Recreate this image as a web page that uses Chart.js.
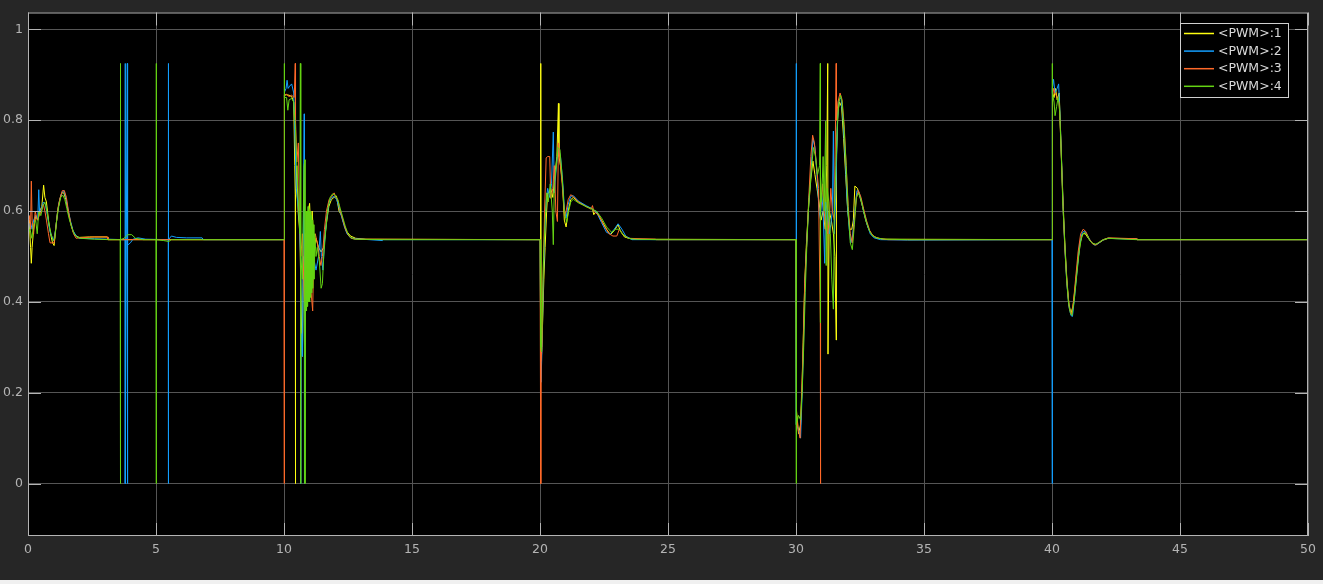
<!doctype html>
<html lang="en">
<head>
  <meta charset="utf-8" />
  <title>PWM scope</title>
  <style>
    body {
      margin: 0;
      background: #f0f0f0;
    }
    canvas {
      display: block;
      background: #262626;
    }
  </style>
</head>
<body>
  <canvas id="scope" width="1323" height="580"></canvas>

  <script src="https://cdn.jsdelivr.net/npm/chart.js"></script>
  <script>
    // tick labels
    const xTicks = [0, 5, 10, 15, 20, 25, 30, 35, 40, 45, 50];
    const xTickLabels = ["0", "5", "10", "15", "20", "25", "30", "35", "40", "45", "50"];
    const yTicks = [0, 0.2, 0.4, 0.6, 0.8, 1];
    const yTickLabels = ["0", "0.2", "0.4", "0.6", "0.8", "1"];

    const seriesNames = ["<PWM>:1", "<PWM>:2", "<PWM>:3", "<PWM>:4"];
    const seriesColors = ["#ffff11", "#139fff", "#ff6929", "#64d413"];

    // [time, value]
    const pwm1 = [
      [0,0.56],[0.05,0.58],[0.1,0.52],[0.13,0.485],[0.16,0.52],[0.22,0.56],[0.3,0.59],[0.38,0.58],[0.46,0.6],[0.54,0.61],
      [0.61,0.657],[0.66,0.63],[0.72,0.62],[0.8,0.58],[0.88,0.55],[0.96,0.53],[1.02,0.524],[1.08,0.56],[1.16,0.6],[1.24,0.625],
      [1.32,0.64],[1.4,0.64],[1.48,0.625],[1.56,0.6],[1.66,0.575],[1.76,0.555],[1.88,0.545],[2.0,0.542],[2.4,0.543],[3.1,0.543],
      [3.12,0.537],[10.0,0.537],
      [10.02,0.855],[10.1,0.856],[10.2,0.855],[10.3,0.852],[10.38,0.84],[10.42,0.7],[10.44,0.636],[10.44,0],[10.46,0.62],[10.5,0.7],
      [10.55,0.6],[10.62,0.55],[10.7,0.3],[10.72,0.28],[10.76,0.5],[10.82,0.45],[10.88,0.55],[10.95,0.6],[11.0,0.617],[11.05,0.55],
      [11.1,0.6],[11.18,0.52],[11.25,0.54],[11.35,0.52],[11.45,0.51],[11.55,0.52],[11.65,0.57],[11.75,0.61],[11.85,0.625],[11.95,0.63],
      [12.05,0.633],[12.15,0.6],[12.25,0.59],[12.35,0.57],[12.45,0.555],[12.6,0.545],[12.8,0.54],[13.2,0.538],[20.0,0.537],
      [20.03,0.537],[20.03,0.925],[20.04,0.27],[20.1,0.35],[20.15,0.45],[20.2,0.52],[20.26,0.6],[20.3,0.64],[20.36,0.64],[20.42,0.65],
      [20.5,0.63],[20.58,0.68],[20.66,0.72],[20.72,0.837],[20.74,0.72],[20.8,0.7],[20.88,0.66],[20.95,0.58],[21.02,0.565],[21.1,0.6],
      [21.2,0.625],[21.3,0.63],[21.5,0.62],[21.8,0.61],[22.05,0.605],[22.1,0.592],[22.2,0.6],[22.4,0.58],[22.6,0.56],[22.75,0.548],
      [22.9,0.557],[23.05,0.57],[23.15,0.555],[23.3,0.543],[23.6,0.538],[30.0,0.537],
      [30.02,0.16],[30.1,0.11],[30.18,0.13],[30.24,0.22],[30.28,0.31],[30.34,0.44],[30.4,0.52],[30.48,0.6],[30.58,0.67],[30.66,0.71],
      [30.74,0.68],[30.82,0.65],[30.9,0.62],[30.98,0.58],[31.06,0.6],[31.14,0.56],[31.2,0.7],[31.24,0.925],[31.25,0.285],[31.3,0.6],
      [31.38,0.58],[31.46,0.55],[31.52,0.5],[31.57,0.316],[31.58,0.72],[31.64,0.82],[31.7,0.84],[31.78,0.83],[31.86,0.76],[31.94,0.68],
      [32.02,0.6],[32.1,0.56],[32.18,0.56],[32.24,0.58],[32.3,0.655],[32.4,0.65],[32.5,0.63],[32.6,0.61],[32.72,0.58],[32.84,0.56],
      [32.96,0.548],[33.1,0.542],[33.4,0.538],[40.0,0.537],
      [40.02,0.86],[40.08,0.85],[40.14,0.87],[40.2,0.845],[40.28,0.86],[40.32,0.8],[40.38,0.7],[40.44,0.61],[40.5,0.53],[40.58,0.45],
      [40.66,0.395],[40.74,0.375],[40.82,0.39],[40.9,0.43],[41.0,0.485],[41.1,0.53],[41.2,0.55],[41.3,0.55],[41.42,0.54],[41.56,0.53],
      [41.7,0.526],[41.84,0.53],[42.0,0.536],[42.2,0.54],[43.3,0.539],[43.32,0.537],[50,0.537]
    ];

    const pwm2 = [
      [0,0.55],[0.05,0.57],[0.1,0.575],[0.16,0.56],[0.22,0.58],[0.3,0.59],[0.38,0.58],[0.42,0.647],[0.45,0.6],[0.52,0.605],
      [0.6,0.62],[0.68,0.615],[0.76,0.59],[0.84,0.56],[0.92,0.545],[1.0,0.535],[1.08,0.56],[1.16,0.6],[1.24,0.625],[1.32,0.64],
      [1.4,0.645],[1.48,0.63],[1.56,0.605],[1.66,0.578],[1.76,0.557],[1.88,0.545],[2.0,0.54],[2.6,0.539],[3.7,0.537],
      [3.8,0.537],[3.8,0.925],[3.8,0],[3.84,0.537],[3.88,0.925],[3.88,0],[3.9,0.525],[4.0,0.53],[4.1,0.538],[4.3,0.541],[4.6,0.538],
      [5.48,0.537],[5.48,0.925],[5.48,0],[5.5,0.537],[5.6,0.545],[5.8,0.542],[6.2,0.541],[6.8,0.541],[6.85,0.537],[10.0,0.537],
      [10.02,0.862],[10.08,0.87],[10.12,0.888],[10.16,0.87],[10.22,0.875],[10.3,0.88],[10.38,0.86],[10.42,0.78],[10.48,0.65],[10.54,0.62],
      [10.6,0.58],[10.65,0.5],[10.65,0],[10.67,0.33],[10.72,0.28],[10.79,0.814],[10.79,0],[10.81,0.4],[10.85,0.55],[10.9,0.45],
      [10.95,0.55],[11.0,0.48],[11.08,0.52],[11.15,0.5],[11.25,0.47],[11.35,0.5],[11.42,0.555],[11.46,0.5],[11.52,0.47],[11.58,0.53],
      [11.66,0.58],[11.76,0.62],[11.86,0.63],[11.96,0.632],[12.06,0.625],[12.16,0.605],[12.26,0.585],[12.36,0.565],[12.46,0.55],[12.6,0.541],
      [12.8,0.539],[13.85,0.535],[13.87,0.537],[20.0,0.537],
      [20.03,0.537],[20.04,0.223],[20.08,0.3],[20.12,0.42],[20.18,0.55],[20.24,0.62],[20.3,0.65],[20.38,0.63],[20.45,0.66],[20.52,0.774],
      [20.56,0.64],[20.64,0.7],[20.72,0.74],[20.8,0.72],[20.88,0.67],[20.96,0.6],[21.02,0.585],[21.1,0.615],[21.2,0.632],[21.3,0.634],
      [21.5,0.622],[21.8,0.612],[22.0,0.606],[22.2,0.598],[22.4,0.575],[22.6,0.553],[22.75,0.55],[22.9,0.56],[23.05,0.572],[23.2,0.56],
      [23.35,0.545],[23.6,0.537],[24.6,0.537],[30.0,0.537],
      [30.01,0.537],[30.01,0.925],[30.02,0.13],[30.1,0.12],[30.18,0.1],[30.24,0.2],[30.3,0.32],[30.36,0.45],[30.42,0.53],[30.5,0.62],
      [30.6,0.7],[30.66,0.76],[30.74,0.74],[30.82,0.68],[30.9,0.6],[30.96,0.58],[31.0,0.64],[31.06,0.6],[31.12,0.485],[31.16,0.62],
      [31.22,0.6],[31.3,0.55],[31.36,0.57],[31.42,0.6],[31.46,0.776],[31.5,0.55],[31.56,0.65],[31.62,0.8],[31.68,0.845],[31.76,0.85],
      [31.84,0.8],[31.92,0.72],[32.0,0.62],[32.08,0.56],[32.14,0.53],[32.2,0.54],[32.3,0.6],[32.38,0.645],[32.46,0.642],[32.56,0.62],
      [32.66,0.595],[32.78,0.57],[32.9,0.55],[33.05,0.541],[33.3,0.537],[34.36,0.536],[40.0,0.537],
      [40.01,0.537],[40.01,0],[40.02,0.87],[40.06,0.89],[40.12,0.86],[40.2,0.87],[40.26,0.88],[40.32,0.8],[40.38,0.7],[40.44,0.6],
      [40.5,0.52],[40.58,0.44],[40.66,0.39],[40.74,0.37],[40.8,0.368],[40.88,0.41],[40.98,0.47],[41.08,0.525],[41.18,0.553],[41.28,0.556],
      [41.4,0.545],[41.52,0.532],[41.66,0.525],[41.8,0.528],[41.95,0.535],[42.15,0.54],[43.3,0.538],[43.32,0.537],[50,0.537]
    ];

    const pwm3 = [
      [0,0.57],[0.05,0.59],[0.1,0.56],[0.13,0.666],[0.16,0.58],[0.22,0.55],[0.28,0.6],[0.36,0.58],[0.44,0.59],[0.52,0.6],
      [0.6,0.615],[0.66,0.6],[0.72,0.58],[0.8,0.55],[0.86,0.53],[0.94,0.53],[1.02,0.53],[1.1,0.57],[1.18,0.61],[1.26,0.63],
      [1.34,0.645],[1.42,0.645],[1.5,0.63],[1.58,0.6],[1.68,0.57],[1.78,0.55],[1.88,0.54],[2.0,0.541],[2.6,0.543],[3.1,0.543],
      [3.12,0.537],[10.0,0.537],
      [10.01,0.537],[10.01,0],[10.02,0.856],[10.1,0.857],[10.2,0.852],[10.3,0.855],[10.4,0.85],[10.44,0.925],[10.45,0.8],[10.5,0.708],
      [10.56,0.75],[10.6,0.6],[10.66,0.5],[10.72,0.55],[10.8,0.4],[10.86,0.55],[10.92,0.45],[11.0,0.5],[11.06,0.42],[11.12,0.38],
      [11.16,0.5],[11.22,0.55],[11.3,0.53],[11.38,0.5],[11.44,0.48],[11.5,0.5],[11.58,0.56],[11.66,0.6],[11.76,0.625],[11.86,0.632],
      [11.96,0.64],[12.02,0.63],[12.1,0.625],[12.2,0.6],[12.3,0.58],[12.4,0.56],[12.5,0.548],[12.62,0.54],[12.8,0.538],[20.0,0.537],
      [20.03,0.537],[20.03,0],[20.04,0.266],[20.08,0.3],[20.12,0.449],[20.18,0.6],[20.24,0.717],[20.3,0.72],[20.38,0.72],[20.42,0.628],
      [20.5,0.65],[20.56,0.7],[20.62,0.6],[20.68,0.577],[20.72,0.75],[20.8,0.7],[20.88,0.65],[20.96,0.59],[21.02,0.6],[21.1,0.625],
      [21.2,0.636],[21.3,0.632],[21.5,0.62],[21.8,0.61],[22.0,0.604],[22.05,0.612],[22.1,0.6],[22.3,0.59],[22.5,0.568],[22.7,0.55],
      [22.85,0.545],[23.0,0.545],[23.1,0.56],[23.25,0.548],[23.45,0.54],[24.5,0.538],[24.55,0.537],[30.0,0.537],
      [30.02,0.15],[30.08,0.12],[30.16,0.1],[30.22,0.2],[30.28,0.3],[30.34,0.44],[30.42,0.53],[30.5,0.63],[30.58,0.72],[30.65,0.767],
      [30.72,0.75],[30.8,0.7],[30.88,0.65],[30.95,0.354],[30.95,0],[30.97,0.6],[31.04,0.66],[31.1,0.6],[31.16,0.56],[31.24,0.55],
      [31.3,0.58],[31.36,0.65],[31.42,0.6],[31.5,0.58],[31.57,0.925],[31.58,0.8],[31.64,0.84],[31.72,0.86],[31.8,0.845],[31.88,0.79],
      [31.96,0.7],[32.04,0.61],[32.12,0.55],[32.2,0.53],[32.28,0.58],[32.36,0.63],[32.44,0.645],[32.54,0.63],[32.64,0.605],[32.76,0.578],
      [32.88,0.557],[33.0,0.546],[33.2,0.54],[33.6,0.537],[40.0,0.537],
      [40.02,0.85],[40.06,0.87],[40.12,0.86],[40.2,0.85],[40.28,0.84],[40.34,0.76],[40.4,0.66],[40.46,0.57],[40.52,0.5],[40.6,0.43],
      [40.68,0.385],[40.76,0.372],[40.84,0.4],[40.92,0.45],[41.02,0.51],[41.12,0.55],[41.22,0.56],[41.32,0.555],[41.44,0.54],[41.58,0.528],
      [41.72,0.525],[41.86,0.532],[42.0,0.537],[42.2,0.541],[43.3,0.539],[43.32,0.537],[50,0.537]
    ];

    const pwm4 = [
      [0,0],[0,0.925],[0.01,0.55],[0.08,0.56],[0.15,0.54],[0.22,0.57],[0.3,0.58],[0.36,0.55],[0.42,0.6],[0.5,0.59],
      [0.58,0.61],[0.66,0.62],[0.74,0.6],[0.82,0.57],[0.9,0.55],[0.98,0.535],[1.05,0.54],[1.12,0.58],[1.2,0.61],[1.28,0.63],
      [1.36,0.635],[1.44,0.625],[1.52,0.605],[1.6,0.585],[1.7,0.565],[1.8,0.55],[1.9,0.543],[2.05,0.54],[2.6,0.538],[3.2,0.537],
      [3.6,0.537],[3.61,0.925],[3.61,0],[3.62,0.537],[3.75,0.54],[3.9,0.548],[4.05,0.548],[4.2,0.54],[4.5,0.537],[5.0,0.537],
      [5.01,0.925],[5.01,0],[5.02,0.537],[5.3,0.535],[5.5,0.533],[5.6,0.537],[10.0,0.537],
      [10.01,0.925],[10.02,0.85],[10.1,0.85],[10.15,0.822],[10.2,0.845],[10.3,0.848],[10.38,0.84],[10.45,0.78],[10.5,0.7],[10.56,0.62],
      [10.62,0.55],[10.64,0.925],[10.65,0],[10.66,0.5],[10.72,0.45],[10.78,0.7],[10.82,0.713],[10.82,0],[10.84,0.4],[10.86,0.6],
      [10.88,0.38],[10.9,0.6],[10.92,0.39],[10.94,0.61],[10.96,0.4],[10.98,0.6],[11.0,0.4],[11.02,0.6],[11.04,0.41],[11.06,0.59],
      [11.08,0.42],[11.1,0.58],[11.12,0.43],[11.14,0.57],[11.17,0.45],[11.2,0.55],[11.25,0.5],[11.3,0.52],[11.38,0.49],[11.45,0.43],
      [11.5,0.44],[11.55,0.5],[11.62,0.55],[11.7,0.6],[11.8,0.63],[11.9,0.638],[12.0,0.635],[12.1,0.625],[12.2,0.605],[12.3,0.585],
      [12.4,0.565],[12.5,0.55],[12.6,0.542],[12.75,0.538],[13.9,0.537],[20.0,0.537],
      [20.03,0.537],[20.03,0.3],[20.06,0.29],[20.1,0.4],[20.14,0.5],[20.2,0.58],[20.26,0.64],[20.32,0.62],[20.4,0.66],[20.48,0.6],
      [20.52,0.526],[20.56,0.66],[20.64,0.7],[20.7,0.74],[20.78,0.735],[20.86,0.68],[20.95,0.6],[21.04,0.575],[21.12,0.6],[21.2,0.62],
      [21.3,0.626],[21.5,0.618],[21.8,0.61],[22.0,0.605],[22.2,0.6],[22.4,0.585],[22.6,0.565],[22.8,0.553],[22.95,0.56],[23.1,0.56],
      [23.25,0.548],[23.45,0.54],[23.7,0.538],[24.6,0.537],[30.0,0.537],
      [30.01,0.537],[30.01,0],[30.02,0.13],[30.1,0.15],[30.18,0.14],[30.24,0.2],[30.3,0.3],[30.36,0.42],[30.42,0.52],[30.5,0.62],
      [30.6,0.69],[30.68,0.74],[30.76,0.72],[30.84,0.68],[30.92,0.7],[30.95,0.925],[30.95,0.354],[30.96,0.68],[31.0,0.62],[31.06,0.72],
      [31.1,0.6],[31.16,0.798],[31.18,0.48],[31.22,0.65],[31.28,0.62],[31.34,0.55],[31.4,0.45],[31.46,0.384],[31.5,0.6],[31.56,0.7],
      [31.62,0.8],[31.68,0.84],[31.74,0.855],[31.8,0.84],[31.88,0.78],[31.96,0.7],[32.04,0.6],[32.12,0.53],[32.2,0.515],[32.28,0.57],
      [32.36,0.63],[32.44,0.64],[32.54,0.625],[32.64,0.6],[32.76,0.575],[32.88,0.555],[33.0,0.545],[33.2,0.54],[33.5,0.538],[34.4,0.537],
      [40.0,0.537],
      [40.01,0.537],[40.01,0.925],[40.02,0.86],[40.08,0.84],[40.12,0.81],[40.18,0.83],[40.24,0.85],[40.3,0.82],[40.36,0.73],[40.42,0.62],
      [40.5,0.53],[40.56,0.46],[40.64,0.4],[40.72,0.375],[40.78,0.37],[40.86,0.4],[40.96,0.455],[41.06,0.51],[41.16,0.545],[41.26,0.553],
      [41.36,0.548],[41.48,0.535],[41.6,0.528],[41.72,0.527],[41.86,0.532],[42.0,0.537],[42.2,0.54],[42.5,0.539],[43.3,0.537],[50,0.537]
    ];

    const allSeries = [pwm1, pwm2, pwm3, pwm4];

    // black plot area + box + inner tick marks + legend, like the Simulink scope
    const scopeFrame = {
      id: "scopeFrame",
      beforeDraw(chart) {
        const { ctx, chartArea: a } = chart;
        ctx.save();
        ctx.fillStyle = "#000";
        ctx.fillRect(a.left, a.top, a.right - a.left, a.bottom - a.top);
        ctx.restore();
      },
      afterDraw(chart) {
        const { ctx, chartArea: a, scales } = chart;
        ctx.save();
        ctx.strokeStyle = "#b4b4b4";
        ctx.lineWidth = 1;
        ctx.strokeRect(a.left + 0.5, a.top + 0.5, a.right - a.left - 1, a.bottom - a.top - 1);

        // short tick marks inside the box
        ctx.beginPath();
        yTicks.forEach(v => {
          const y = Math.round(scales.y.getPixelForValue(v)) + 0.5;
          ctx.moveTo(a.left, y); ctx.lineTo(a.left + 13, y);
          ctx.moveTo(a.right, y); ctx.lineTo(a.right - 13, y);
        });
        xTicks.forEach(v => {
          const x = Math.round(scales.x.getPixelForValue(v)) + 0.5;
          ctx.moveTo(x, a.bottom); ctx.lineTo(x, a.bottom - 13);
          ctx.moveTo(x, a.top); ctx.lineTo(x, a.top + 13);
        });
        ctx.stroke();

        // legend box top right
        const bx = 1180.5, by = 23.5, bw = 108, bh = 74;
        ctx.fillStyle = "#000";
        ctx.fillRect(bx, by, bw, bh);
        ctx.strokeStyle = "#d0d0d0";
        ctx.strokeRect(bx, by, bw, bh);
        ctx.font = "12.5px 'DejaVu Sans'";
        ctx.textBaseline = "middle";
        seriesNames.forEach((name, i) => {
          const y = 33.5 + i * 17.6;
          ctx.strokeStyle = seriesColors[i];
          ctx.lineWidth = 1.5;
          ctx.beginPath();
          ctx.moveTo(1184, y); ctx.lineTo(1214, y);
          ctx.stroke();
          ctx.fillStyle = "#d9d9d9";
          ctx.fillText(name, 1218, y + 0.5);
        });
        ctx.restore();
      }
    };

    const ctx = document.getElementById("scope").getContext("2d");

    new Chart(ctx, {
      type: "line",
      data: {
        datasets: allSeries.map((s, i) => ({
          label: seriesNames[i],
          data: s,
          borderColor: seriesColors[i],
          backgroundColor: seriesColors[i],
          borderWidth: 1,
          pointRadius: 0,
          tension: 0,
          // green drawn last (on top), yellow first
          order: 4 - i
        }))
      },
      options: {
        animation: false,
        responsive: false,
        devicePixelRatio: 1,
        layout: { padding: { left: 0, top: 8, right: 15, bottom: 0 } },
        scales: {
          x: {
            type: "linear",
            min: 0,
            max: 50,
            afterFit: s => { s.height = 44; },
            afterBuildTicks: s => { s.ticks = xTicks.map(v => ({ value: v })); },
            grid: { color: "#555", drawTicks: false },
            border: { display: false },
            ticks: {
              color: "#b4b4b4",
              font: { family: "DejaVu Sans", size: 12.5 },
              padding: 6,
              maxRotation: 0,
              autoSkip: false,
              callback: (v, i) => xTickLabels[i]
            }
          },
          y: {
            min: -0.1155,
            max: 1.0372,
            afterFit: s => { s.width = 28; },
            afterBuildTicks: s => { s.ticks = yTicks.map(v => ({ value: v })); },
            grid: { color: "#555", drawTicks: false },
            border: { display: false },
            ticks: {
              color: "#b4b4b4",
              font: { family: "DejaVu Sans", size: 12.5 },
              padding: 5,
              autoSkip: false,
              callback: (v, i) => yTickLabels[i]
            }
          }
        },
        plugins: {
          legend: { display: false },
          tooltip: { enabled: false }
        }
      },
      plugins: [scopeFrame]
    });
  </script>
</body>
</html>
